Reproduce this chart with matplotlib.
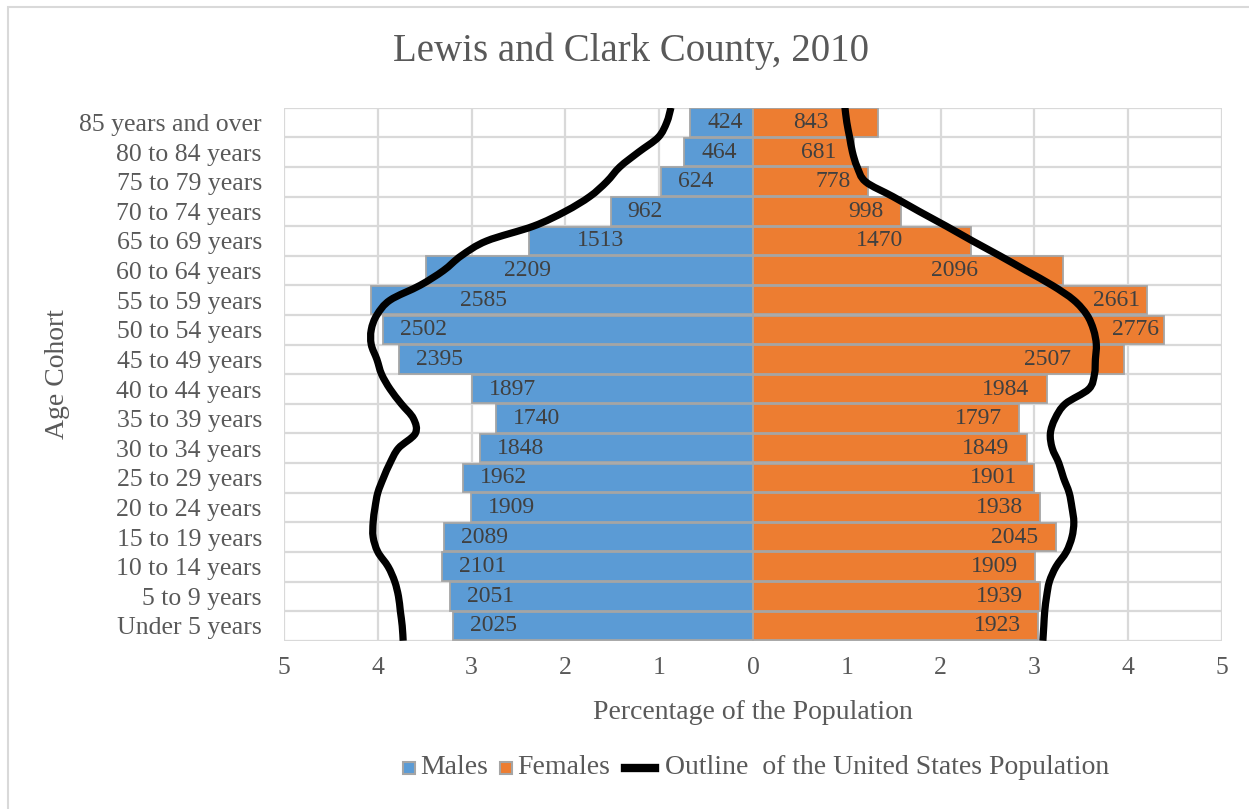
"""Population pyramid: Lewis and Clark County, 2010, with the US outline."""

import numpy as np
import matplotlib

matplotlib.use("Agg")
import matplotlib.pyplot as plt
from matplotlib.lines import Line2D
from matplotlib.patches import PathPatch, Rectangle
from matplotlib.path import Path

# ---- data -------------------------------------------------------------------
AGE_GROUPS = [
    "Under 5 years", "5 to 9 years", "10 to 14 years", "15 to 19 years",
    "20 to 24 years", "25 to 29 years", "30 to 34 years", "35 to 39 years",
    "40 to 44 years", "45 to 49 years", "50 to 54 years", "55 to 59 years",
    "60 to 64 years", "65 to 69 years", "70 to 74 years", "75 to 79 years",
    "80 to 84 years", "85 years and over",
]
MALES = [2025, 2051, 2101, 2089, 1909, 1962, 1848, 1740, 1897,
         2395, 2502, 2585, 2209, 1513, 962, 624, 464, 424]
FEMALES = [1923, 1939, 1909, 2045, 1938, 1901, 1849, 1797, 1984,
           2507, 2776, 2661, 2096, 1470, 998, 778, 681, 843]

# US outline, every half cohort from the top edge down
US_ROWS = np.arange(17.5, -0.6, -0.5)
US_MALE = [0.875, 0.92, 1.01, 1.22, 1.42, 1.56, 1.74, 2.0, 2.34, 2.84,
           3.11, 3.30, 3.55, 3.87, 4.01, 4.07, 4.07, 4.01, 3.96, 3.87,
           3.75, 3.62, 3.60, 3.78, 3.87, 3.94, 4.0, 4.03, 4.05, 4.05,
           4.0, 3.89, 3.82, 3.78, 3.76, 3.74, 3.73]
US_FEMALE = [0.98, 1.0, 1.03, 1.06, 1.11, 1.2, 1.49, 1.77, 2.06, 2.34,
             2.63, 2.91, 3.19, 3.42, 3.56, 3.63, 3.66, 3.65, 3.64, 3.58,
             3.33, 3.22, 3.17, 3.19, 3.26, 3.31, 3.37, 3.40, 3.42, 3.40,
             3.34, 3.23, 3.16, 3.13, 3.11, 3.10, 3.09]

# ---- style ------------------------------------------------------------------
BLUE, ORANGE, EDGE = "#5B9BD5", "#ED7D31", "#A5A5A5"
GRID, INK, LABEL_INK = "#D9D9D9", "#595959", "#404040"
plt.rcParams["font.family"] = "Liberation Serif"

# hand-placed data labels in the original: extra inward shift (px)
NUDGE_M = {1513: 31, 2209: 61, 2585: 72}
NUDGE_F = {843: 32, 1470: 50, 2096: 68, 2507: 36, 2661: -10, 2776: -12}

W, H = 1249, 809


def smooth_path(xs, ys):
    """Catmull-Rom through the points, as cubic Beziers (Excel smoothed line)."""
    p = np.column_stack([xs, ys])
    ext = np.vstack([p[0], p, p[-1]])
    verts, codes = [p[0]], [Path.MOVETO]
    for i in range(1, len(ext) - 2):
        c1 = ext[i] + (ext[i + 1] - ext[i - 1]) / 6
        c2 = ext[i + 1] - (ext[i + 2] - ext[i]) / 6
        verts += [c1, c2, ext[i + 1]]
        codes += [Path.CURVE4] * 3
    return Path(verts, codes)


total = sum(MALES) + sum(FEMALES)
pct_m = np.array(MALES) / total * 100
pct_f = np.array(FEMALES) / total * 100
rows = np.arange(len(AGE_GROUPS))

fig = plt.figure(figsize=(W / 100, H / 100), dpi=100, facecolor="white")
ax = fig.add_axes([0.2274, 0.208, 0.7510, 0.6589])

ax.barh(rows, -pct_m, height=0.96, color=BLUE, edgecolor=EDGE, lw=1.3,
        zorder=2)
ax.barh(rows, pct_f, height=0.96, color=ORANGE, edgecolor=EDGE, lw=1.3,
        zorder=2)
for xs in (-np.array(US_MALE), np.array(US_FEMALE)):
    ax.add_patch(PathPatch(smooth_path(xs, US_ROWS), fill=False,
                           ec="black", lw=5.2, capstyle="butt",
                           joinstyle="round", zorder=4))

px = 72 / 100
for y, v, n in zip(rows, pct_m, MALES):
    ax.annotate(str(n), (-v, y), xytext=((17 + NUDGE_M.get(n, 0)) * px, 0),
                textcoords="offset points", ha="left", va="center",
                fontsize=17, color=LABEL_INK, zorder=5)
for y, v, n in zip(rows, pct_f, FEMALES):
    ax.annotate(str(n), (v, y), xytext=(-(17 + NUDGE_F.get(n, 0)) * px, 0),
                textcoords="offset points", ha="right", va="center",
                fontsize=17, color=LABEL_INK, zorder=5)

ax.set_xlim(-5, 5)
ax.set_ylim(-0.5, 17.5)
ticks = np.arange(-5, 6)
ax.set_xticks(ticks, [str(abs(t)) for t in ticks])
ax.set_yticks(rows, AGE_GROUPS)
ax.set_yticks(np.arange(-0.5, 18, 1), minor=True)
ax.tick_params(axis="both", which="both", length=0, colors=INK)
ax.tick_params(axis="y", labelsize=18.5, pad=16)
ax.tick_params(axis="x", labelsize=18.5, pad=12)
ax.grid(axis="x", which="major", color=GRID, lw=1.6)
ax.grid(axis="y", which="minor", color=GRID, lw=1.6)
ax.set_axisbelow(True)
for s in ax.spines.values():
    s.set_visible(False)

ax.set_xlabel("Percentage of the Population", fontsize=20, color=INK)
ax.xaxis.set_label_coords(0.5, -0.111)
ax.set_ylabel("Age Cohort", fontsize=20, color=INK, va="center")
ax.yaxis.set_label_coords(-0.242, 0.5)

fig.text(0.5056, 0.937, "Lewis and Clark County, 2010", ha="center",
         va="center", fontsize=28, color=INK)

# legend laid out by hand: small squares, one long line key
leg_y = 1 - 768 / H
for x0, color, label in ((403, BLUE, "Males"), (500, ORANGE, "Females")):
    fig.patches.append(Rectangle((x0 / W, leg_y - 6 / H), 12 / W, 12 / H,
                                 fc=color, ec=EDGE, lw=1.5,
                                 transform=fig.transFigure))
    fig.text((x0 + 17) / W, leg_y, label, ha="left", va="center",
             fontsize=20, color=INK)
fig.add_artist(Line2D([625 / W, 655 / W], [leg_y, leg_y], color="black",
                      lw=6, transform=fig.transFigure))
fig.text(665 / W, leg_y, "Outline  of the United States Population",
         ha="left", va="center", fontsize=20, color=INK)

fig.patches.append(Rectangle((8 / W, -0.1), 1.1, 0.1 + 1 - 7 / H, fill=False,
                             ec=GRID, lw=1.5, transform=fig.transFigure))

fig.savefig("out.png", dpi=100, facecolor="white")
